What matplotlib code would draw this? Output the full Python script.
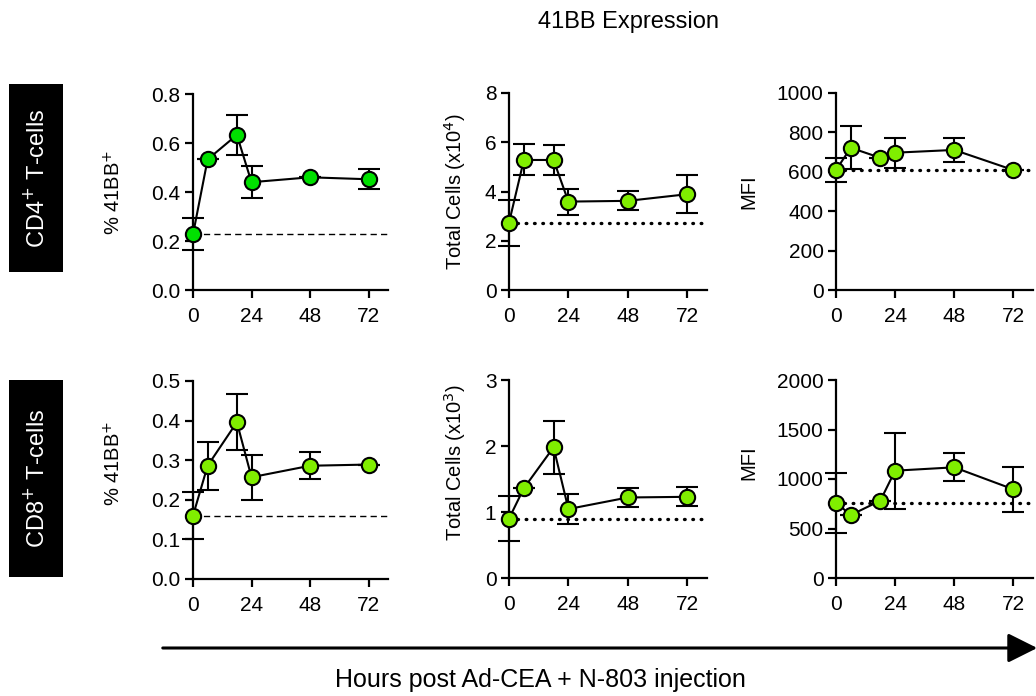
import matplotlib
matplotlib.use("Agg")
import matplotlib.pyplot as plt
from matplotlib.patches import Rectangle, FancyArrowPatch

plt.rcParams['font.family'] = ['Liberation Sans', 'DejaVu Sans']

hours = [0, 6, 18, 24, 48, 72]

cd4_pct = [0.227, 0.533, 0.633, 0.44, 0.46, 0.452]
cd4_pct_err = [0.065, 0.0, 0.08, 0.065, 0.0, 0.04]
cd4_cells = [2.73, 5.28, 5.28, 3.59, 3.62, 3.89]
cd4_cells_err = [0.93, 0.63, 0.6, 0.53, 0.39, 0.77]
cd4_mfi = [609, 722, 671, 697, 711, 609]
cd4_mfi_err = [62, 110, 0, 77, 62, 0]

cd8_pct = [0.16, 0.286, 0.396, 0.257, 0.286, 0.289]
cd8_pct_err = [0.06, 0.06, 0.07, 0.057, 0.034, 0.0]
cd8_cells = [0.90, 1.36, 1.98, 1.045, 1.22, 1.23]
cd8_cells_err = [0.34, 0.0, 0.4, 0.23, 0.145, 0.145]
cd8_mfi = [761, 636, 781, 1084, 1118, 896]
cd8_mfi_err = [303, 0, 0, 384, 143, 230]

xticks = [0, 24, 48, 72]

W, H = 1036, 696
fig = plt.figure(figsize=(W / 100, H / 100), dpi=100)

def add_ax(x0, x1, ytop, ybot):
    return fig.add_axes([x0 / W, 1 - ybot / H, (x1 - x0) / W, (ybot - ytop) / H])

panels = [
    (193, 388, 94, 290, cd4_pct, cd4_pct_err, 0.8, [0, 0.2, 0.4, 0.6, 0.8],
     ['0.0', '0.2', '0.4', '0.6', '0.8'], '% 41BB$^{+}$', '#00e000', 'dashed', 114),
    (509, 707, 93, 290, cd4_cells, cd4_cells_err, 8, [0, 2, 4, 6, 8],
     ['0', '2', '4', '6', '8'], 'Total Cells (x10$^{4}$)', '#80ee00', 'dotted', 455),
    (836, 1033, 93, 290, cd4_mfi, cd4_mfi_err, 1000, [0, 200, 400, 600, 800, 1000],
     ['0', '200', '400', '600', '800', '1000'], 'MFI', '#80ee00', 'dotted', 749),
    (193, 388, 381, 579, cd8_pct, cd8_pct_err, 0.5, [0, 0.1, 0.2, 0.3, 0.4, 0.5],
     ['0.0', '0.1', '0.2', '0.3', '0.4', '0.5'], '% 41BB$^{+}$', '#80ee00', 'dashed', 114),
    (509, 707, 380, 578, cd8_cells, cd8_cells_err, 3, [0, 1, 2, 3],
     ['0', '1', '2', '3'], 'Total Cells (x10$^{3}$)', '#80ee00', 'dotted', 455),
    (836, 1033, 380, 578, cd8_mfi, cd8_mfi_err, 2000, [0, 500, 1000, 1500, 2000],
     ['0', '500', '1000', '1500', '2000'], 'MFI', '#80ee00', 'dotted', 749),
]

ylab_y = {94: 192, 93: 192, 381: 463, 380: 463}

for (x0, x1, yt, yb, y, err, ymax, yticks, yticklabels, ylabel, color, style, ylx) in panels:
    ax = add_ax(x0, x1, yt, yb)
    ax.set_xlim(0, 80)
    ax.set_ylim(0, ymax)
    for s in ['top', 'right']:
        ax.spines[s].set_visible(False)
    for s in ['left', 'bottom']:
        ax.spines[s].set_linewidth(1.6)
    ax.tick_params(direction='out', length=6, width=1.6, labelsize=15, pad=3)
    ax.tick_params(axis='x', pad=6)
    ax.set_xticks(xticks)
    ax.set_yticks(yticks)
    ax.set_yticklabels(yticklabels)
    base = y[0]
    if style == 'dashed':
        ax.plot([0, 80], [base, base], color='black', lw=1.0, ls=(0, (4.5, 3)), zorder=1, clip_on=False)
    else:
        ax.plot([0, 80], [base, base], color='black', lw=2.4, ls=(0, (0.2, 2.3)),
                dash_capstyle='round', zorder=1, clip_on=False)
    ax.errorbar(hours, y, yerr=err, fmt='none', ecolor='black', elinewidth=1.5,
                capsize=8, capthick=1.5, zorder=2, clip_on=False)
    ax.plot(hours, y, color='black', lw=1.5, marker='o', markersize=11,
            markerfacecolor=color, markeredgecolor='black', markeredgewidth=1.5,
            zorder=3, clip_on=False)
    fig.text(ylx / W, 1 - ylab_y[yt] / H, ylabel, rotation=90, ha='center', va='center',
             fontsize=14.5)

# Row labels
for (ytop, ybot, label) in [(84, 272, 'CD4$^{+}$ T-cells'), (380, 577, 'CD8$^{+}$ T-cells')]:
    fig.patches.append(Rectangle((9 / W, 1 - ybot / H), (63 - 9) / W, (ybot - ytop) / H,
                                 transform=fig.transFigure, facecolor='black', edgecolor='none'))
    fig.text(37 / W, 1 - ((ytop + ybot) / 2) / H, label, rotation=90, ha='center', va='center',
             color='white', fontsize=17)

fig.text(628 / W, 1 - 22 / H, '41BB Expression', ha='center', va='center', fontsize=17)

arrow = FancyArrowPatch((160 / W, 1 - 648 / H), (1040 / W, 1 - 648 / H), transform=fig.transFigure,
                        arrowstyle='-|>,head_length=0.9,head_width=0.45', mutation_scale=20,
                        color='black', lw=2.2)
fig.patches.append(arrow)
fig.text(540 / W, 1 - 680 / H, 'Hours post Ad-CEA + N-803 injection', ha='center', va='center',
         fontsize=18)

fig.savefig('out.png', dpi=100)
